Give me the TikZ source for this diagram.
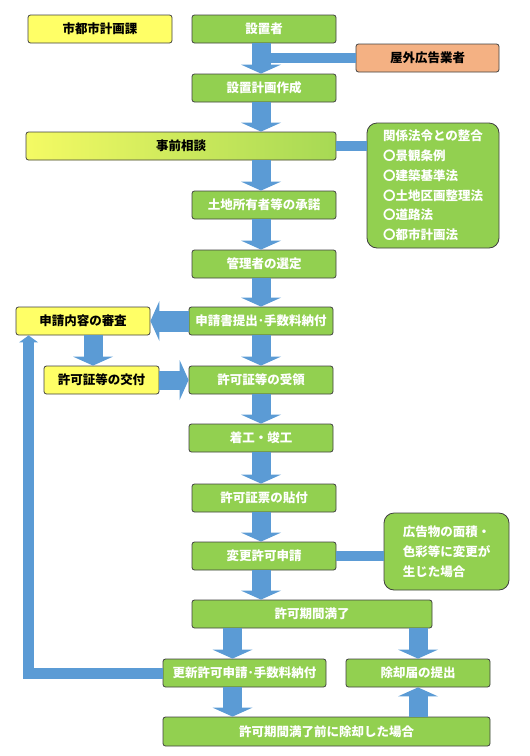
\documentclass[tikz,border=0pt]{standalone}
\usepackage{fontspec}
\setmainfont{Noto Sans CJK JP}
\usetikzlibrary{arrows.meta}
\definecolor{ppgreen}{HTML}{92D050}
\definecolor{ppyellow}{HTML}{FFFF66}
\definecolor{pporange}{HTML}{F4B183}
\definecolor{ppblue}{HTML}{5B9BD5}
\definecolor{ppedge}{HTML}{404040}
\pgfdeclarehorizontalshading{jizenshade}{100bp}{color(0bp)=(ppyellow); color(18bp)=(ppyellow); color(88bp)=(ppgreen); color(100bp)=(ppgreen)}
\begin{document}
\begin{tikzpicture}[x=1pt,y=-1pt,
    box/.style={shape=rectangle,draw=ppedge,line width=0.8pt,rounded corners=2.5pt,
      fill=ppgreen,text=white,minimum width=144pt,minimum height=28pt,inner sep=0pt,
      font=\fontsize{12.5pt}{19.8pt}\selectfont\bfseries},
    ybox/.style={box,fill=ppyellow,text=black},
    note/.style={box,rounded corners=10pt,align=left},
    flow/.style={ppblue,line width=19pt,-{Triangle[width=40pt,length=9pt,line width=0pt]}},
    back/.style={ppblue,line width=11pt,-{Triangle[width=19pt,length=7pt,line width=0pt]}},
    bar/.style={ppblue,line width=10pt}]
    \useasboundingbox (0,0) rectangle (530,756);
    \path (100,29) node (toshi) [ybox] {市都市計画課}
    (264,29) node (secchi) [box] {設置者}
    (427.5,58) node (okugai) [ybox,fill=pporange,minimum width=143pt] {屋外広告業者}
    (264,88) node (keikaku) [box] {設置計画作成}
    (181,146) node (jizen) [ybox,shading=jizenshade,minimum width=310pt] {事前相談}
    (433,185.5) node (kankei) [note,minimum width=132pt,minimum height=125pt] {関係法令との整合\\〇景観条例\\〇建築基準法\\〇土地区画整理法\\〇道路法\\〇都市計画法}
    (264,205) node (shodaku) [box] {土地所有者等の承諾}
    (264,264) node (kanri) [box] {管理者の選定}
    (261,321) node (shinsei) [box] {申請書提出･手数料納付}
    (83,321) node (shinsa) [ybox,minimum width=134pt] {申請内容の審査}
    (101.5,380) node (kofu) [ybox,minimum width=115pt] {許可証等の交付}
    (261,380) node (juryo) [box] {許可証等の受領}
    (261,438) node (chakko) [box] {着工・竣工}
    (264,498) node (hyoji) [box] {許可証票の貼付}
    (264,556) node (henko) [box] {変更許可申請}
    (446.5,551.5) node (jokyo) [note,minimum width=125pt,minimum height=77pt] {広告物の面積・\\色彩等に変更が\\生じた場合}
    (312,614) node (manryo) [box,minimum width=240pt] {許可期間満了}
    (244.5,673) node (koshin) [box,minimum width=163pt] {更新許可申請･手数料納付}
    (418,673) node (todoke) [box] {除却届の提出}
    (326.5,731.5) node (mae) [box,minimum width=327pt,minimum height=29pt] {許可期間満了前に除却した場合};
    \draw [flow] (secchi.south -| juryo) -- (keikaku.north -| juryo);
    \draw [bar] (okugai.west) -- (okugai.west -| juryo);
    \draw [flow] (keikaku.south -| juryo) -- (jizen.north -| juryo);
    \draw [bar] (jizen.east) -- (jizen.east -| kankei.west);
    \draw [flow] (jizen.south -| juryo) -- (shodaku.north -| juryo);
    \draw [flow] (shodaku.south -| juryo) -- (kanri.north -| juryo);
    \draw [flow] (kanri.south -| juryo) -- (shinsei.north);
    \draw [flow, line width=21pt] (shinsei.west) -- (shinsa.east);
    \draw [flow] ([xshift=10pt]shinsa.south) -- ([xshift=10pt]shinsa.south |- kofu.north);
    \draw [flow] (kofu.east) -- (juryo.west);
    \draw [flow] (shinsei.south) -- (juryo.north);
    \draw [flow] (juryo.south) -- (chakko.north);
    \draw [flow] (chakko.south) -- (hyoji.north -| chakko);
    \draw [flow] (hyoji.south -| chakko) -- (henko.north -| chakko);
    \draw [bar] (henko.east) -- (henko.east -| jokyo.west);
    \draw [flow] (henko.south -| chakko) -- (manryo.north -| chakko);
    \draw [flow] (manryo.south -| todoke) -- (todoke.north);
    \draw [flow] ([xshift=-12pt]koshin.north |- manryo.south) -- ([xshift=-12pt]koshin.north);
    \draw [flow] ([xshift=-12pt]koshin.south) -- ([xshift=-12pt]koshin.south |- mae.north);
    \draw [flow] (mae.north -| todoke) -- (todoke.south);
    \draw [back] (koshin.west) -| ([xshift=13pt]shinsa.south west);
    \end{tikzpicture}
\end{document}
